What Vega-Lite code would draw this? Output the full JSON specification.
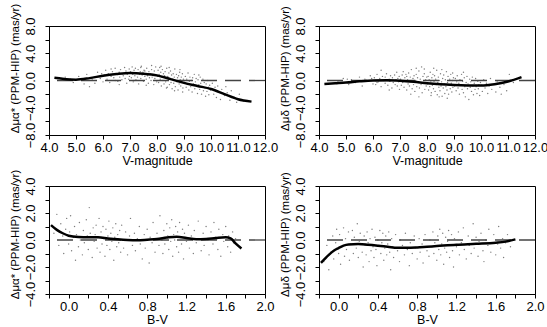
{
  "$schema": "https://vega.github.io/schema/vega-lite/v6.json",
  "padding": {"left": 8, "top": 2, "right": 2, "bottom": 2},
  "config": {
    "view": {"stroke": "black", "strokeWidth": 1},
    "axis": {"grid": false, "domainColor": "black", "tickColor": "black", "labelFont": "Liberation Sans", "titleFont": "Liberation Sans", "labelFontSize": 13, "titleFontSize": 12.5, "titleFontWeight": "normal", "tickSize": 4, "labelOverlap": false, "labelFlush": false},
    "axisX": {"labelPadding": 2, "titlePadding": 0},
    "axisY": {"labelAngle": -90, "labelPadding": 8, "titlePadding": 4, "titleFontSize": 11.5}
  },
  "datasets": {
    "tl": [
      {"x":4.6,"y":0.5},{"x":4.9,"y":-0.3},{"x":5.1,"y":0.6},{"x":5.3,"y":-0.5},{"x":5.4,"y":0.9},{"x":5.6,"y":0.2},{"x":5.7,"y":-0.4},{"x":5.8,"y":1.2},{"x":5.9,"y":0.3},{"x":6.0,"y":-0.2},{"x":5.2,"y":0.1},{"x":4.8,"y":0.2},{"x":5.5,"y":-0.9},{"x":5.95,"y":1.0},
      {"x":6.05,"y":0.8},{"x":6.1,"y":1.5},{"x":6.15,"y":0.2},{"x":6.2,"y":1.0},{"x":6.25,"y":-0.3},{"x":6.3,"y":0.6},{"x":6.35,"y":1.3},{"x":6.4,"y":0.4},{"x":6.45,"y":1.8},{"x":6.5,"y":0.9},{"x":6.55,"y":-0.1},{"x":6.6,"y":1.2},{"x":6.62,"y":0.5},{"x":6.65,"y":1.6},{"x":6.7,"y":0.1},{"x":6.72,"y":1.0},{"x":6.75,"y":0.7},{"x":6.8,"y":1.9},{"x":6.82,"y":0.3},{"x":6.85,"y":1.4},{"x":6.88,"y":-0.4},{"x":6.9,"y":0.9},{"x":6.92,"y":1.1},{"x":6.95,"y":0.2},{"x":6.97,"y":1.7},{"x":6.98,"y":0.6},{"x":6.6,"y":-0.6},{"x":6.3,"y":1.7},{"x":6.15,"y":0.9},{"x":6.45,"y":0.0},
      {"x":7.02,"y":1.3},{"x":7.05,"y":0.4},{"x":7.08,"y":2.0},{"x":7.1,"y":0.9},{"x":7.12,"y":-0.2},{"x":7.15,"y":1.5},{"x":7.18,"y":0.7},{"x":7.2,"y":1.8},{"x":7.22,"y":0.1},{"x":7.25,"y":1.1},{"x":7.28,"y":0.5},{"x":7.3,"y":1.6},{"x":7.32,"y":-0.5},{"x":7.35,"y":0.9},{"x":7.38,"y":1.3},{"x":7.4,"y":0.3},{"x":7.42,"y":2.1},{"x":7.45,"y":0.8},{"x":7.48,"y":1.2},{"x":7.5,"y":-0.1},{"x":7.52,"y":1.5},{"x":7.55,"y":0.6},{"x":7.58,"y":1.0},{"x":7.6,"y":0.2},{"x":7.62,"y":1.8},{"x":7.65,"y":0.7},{"x":7.68,"y":-0.4},{"x":7.7,"y":1.3},{"x":7.72,"y":0.4},{"x":7.75,"y":1.0},{"x":7.78,"y":0.0},{"x":7.8,"y":1.6},{"x":7.82,"y":0.5},{"x":7.85,"y":0.9},{"x":7.88,"y":-0.6},{"x":7.9,"y":1.4},{"x":7.92,"y":0.3},{"x":7.95,"y":2.0},{"x":7.97,"y":0.7},{"x":7.99,"y":-0.2},{"x":7.4,"y":1.9},{"x":7.6,"y":-0.7},{"x":7.8,"y":2.2},{"x":7.15,"y":0.0},{"x":7.55,"y":1.4},
      {"x":8.02,"y":0.6},{"x":8.04,"y":1.5},{"x":8.06,"y":-0.3},{"x":8.08,"y":0.9},{"x":8.1,"y":1.9},{"x":8.12,"y":0.2},{"x":8.14,"y":1.2},{"x":8.16,"y":-0.8},{"x":8.18,"y":0.5},{"x":8.2,"y":1.6},{"x":8.22,"y":0.0},{"x":8.24,"y":1.0},{"x":8.26,"y":-0.5},{"x":8.28,"y":0.7},{"x":8.3,"y":1.3},{"x":8.32,"y":-0.2},{"x":8.34,"y":0.4},{"x":8.36,"y":1.8},{"x":8.38,"y":-1.0},{"x":8.4,"y":0.6},{"x":8.42,"y":0.1},{"x":8.44,"y":1.1},{"x":8.46,"y":-0.6},{"x":8.48,"y":0.3},{"x":8.5,"y":1.4},{"x":8.52,"y":-0.3},{"x":8.54,"y":0.8},{"x":8.56,"y":-1.2},{"x":8.58,"y":0.2},{"x":8.6,"y":1.0},{"x":8.62,"y":-0.4},{"x":8.64,"y":0.5},{"x":8.66,"y":1.7},{"x":8.68,"y":-0.9},{"x":8.7,"y":0.0},{"x":8.72,"y":0.9},{"x":8.74,"y":-0.2},{"x":8.76,"y":0.4},{"x":8.78,"y":-1.4},{"x":8.8,"y":0.7},{"x":8.82,"y":-0.5},{"x":8.84,"y":1.2},{"x":8.86,"y":0.1},{"x":8.88,"y":-0.8},{"x":8.9,"y":0.5},{"x":8.92,"y":-0.1},{"x":8.94,"y":1.0},{"x":8.96,"y":-1.1},{"x":8.98,"y":0.2},{"x":8.15,"y":2.1},{"x":8.45,"y":1.9},{"x":8.65,"y":-1.5},{"x":8.85,"y":1.6},{"x":8.35,"y":-1.1},{"x":8.95,"y":-1.7},
      {"x":9.02,"y":-0.3},{"x":9.05,"y":0.6},{"x":9.08,"y":-1.0},{"x":9.1,"y":0.2},{"x":9.12,"y":-0.6},{"x":9.15,"y":1.1},{"x":9.18,"y":-1.4},{"x":9.2,"y":-0.1},{"x":9.22,"y":0.5},{"x":9.25,"y":-0.9},{"x":9.28,"y":0.0},{"x":9.3,"y":-1.7},{"x":9.32,"y":0.4},{"x":9.35,"y":-0.5},{"x":9.38,"y":0.9},{"x":9.4,"y":-1.2},{"x":9.42,"y":-0.2},{"x":9.45,"y":0.3},{"x":9.48,"y":-0.8},{"x":9.5,"y":-1.9},{"x":9.52,"y":0.1},{"x":9.55,"y":-0.6},{"x":9.58,"y":-1.3},{"x":9.6,"y":0.5},{"x":9.62,"y":-0.4},{"x":9.65,"y":-2.0},{"x":9.68,"y":-0.9},{"x":9.7,"y":0.2},{"x":9.72,"y":-1.5},{"x":9.75,"y":-0.3},{"x":9.78,"y":-1.1},{"x":9.8,"y":-2.3},{"x":9.82,"y":-0.5},{"x":9.85,"y":-1.6},{"x":9.88,"y":0.0},{"x":9.9,"y":-1.0},{"x":9.92,"y":-2.1},{"x":9.95,"y":-0.7},{"x":9.98,"y":-1.4},{"x":9.55,"y":0.8},
      {"x":10.02,"y":-1.2},{"x":10.05,"y":-0.4},{"x":10.1,"y":-2.0},{"x":10.15,"y":-1.0},{"x":10.2,"y":-2.5},{"x":10.25,"y":-0.8},{"x":10.3,"y":-1.7},{"x":10.35,"y":-2.8},{"x":10.4,"y":-1.3},{"x":10.5,"y":-2.2},{"x":10.55,"y":-0.9},{"x":10.6,"y":-1.8},{"x":10.7,"y":-2.9},{"x":10.75,"y":-1.5},{"x":10.85,"y":-2.4},{"x":10.95,"y":-3.2},{"x":11.05,"y":-2.0},{"x":11.2,"y":-3.0}
    ],
    "tlc": [
      {"x":4.2,"y":0.4},{"x":4.5,"y":0.25},{"x":5.0,"y":0.12},{"x":5.5,"y":0.35},{"x":6.0,"y":0.7},{"x":6.5,"y":0.95},{"x":7.0,"y":1.1},{"x":7.5,"y":1.0},{"x":8.0,"y":0.75},{"x":8.5,"y":0.2},{"x":9.0,"y":-0.35},{"x":9.5,"y":-0.8},{"x":10.0,"y":-1.25},{"x":10.5,"y":-2.0},{"x":11.0,"y":-2.75},{"x":11.5,"y":-3.1}
    ],
    "tr": [
      {"x":4.7,"y":-0.2},{"x":4.9,"y":0.3},{"x":5.1,"y":-0.6},{"x":5.2,"y":0.1},{"x":5.35,"y":-0.3},{"x":5.5,"y":0.5},{"x":5.6,"y":-0.8},{"x":5.7,"y":0.2},{"x":5.8,"y":-0.1},{"x":5.9,"y":0.7},{"x":6.0,"y":-0.5},{"x":5.45,"y":-0.1},{"x":5.05,"y":0.2},{"x":5.95,"y":0.3},
      {"x":6.05,"y":0.4},{"x":6.1,"y":-0.6},{"x":6.15,"y":0.9},{"x":6.2,"y":-0.2},{"x":6.25,"y":0.3},{"x":6.3,"y":-0.9},{"x":6.35,"y":0.6},{"x":6.4,"y":0.0},{"x":6.45,"y":-0.4},{"x":6.5,"y":1.0},{"x":6.55,"y":-0.7},{"x":6.6,"y":0.2},{"x":6.62,"y":-0.1},{"x":6.65,"y":0.7},{"x":6.7,"y":-1.1},{"x":6.72,"y":0.4},{"x":6.75,"y":-0.3},{"x":6.8,"y":0.8},{"x":6.82,"y":-0.6},{"x":6.85,"y":0.1},{"x":6.88,"y":1.2},{"x":6.9,"y":-0.8},{"x":6.92,"y":0.3},{"x":6.95,"y":-0.2},{"x":6.97,"y":0.6},{"x":6.98,"y":-1.3},{"x":6.3,"y":1.5},{"x":6.6,"y":-1.4},{"x":6.15,"y":-0.3},{"x":6.45,"y":0.5},
      {"x":7.02,"y":0.2},{"x":7.05,"y":-0.7},{"x":7.08,"y":0.8},{"x":7.1,"y":-0.3},{"x":7.12,"y":1.3},{"x":7.15,"y":-1.0},{"x":7.18,"y":0.4},{"x":7.2,"y":-0.1},{"x":7.22,"y":0.9},{"x":7.25,"y":-1.4},{"x":7.28,"y":0.1},{"x":7.3,"y":-0.5},{"x":7.32,"y":1.1},{"x":7.35,"y":-0.8},{"x":7.38,"y":0.5},{"x":7.4,"y":-0.2},{"x":7.42,"y":1.6},{"x":7.45,"y":-1.2},{"x":7.48,"y":0.3},{"x":7.5,"y":-0.6},{"x":7.52,"y":0.7},{"x":7.55,"y":-1.6},{"x":7.58,"y":0.0},{"x":7.6,"y":0.9},{"x":7.62,"y":-0.9},{"x":7.65,"y":0.4},{"x":7.68,"y":-0.3},{"x":7.7,"y":1.4},{"x":7.72,"y":-1.1},{"x":7.75,"y":0.2},{"x":7.78,"y":-0.6},{"x":7.8,"y":2.0},{"x":7.82,"y":-1.8},{"x":7.85,"y":0.6},{"x":7.88,"y":-0.4},{"x":7.9,"y":1.0},{"x":7.92,"y":-1.3},{"x":7.95,"y":0.1},{"x":7.97,"y":-0.8},{"x":7.99,"y":0.5},{"x":7.4,"y":-2.0},{"x":7.6,"y":1.8},{"x":7.25,"y":0.6},{"x":7.7,"y":-2.4},{"x":7.9,"y":1.7},
      {"x":8.02,"y":-0.5},{"x":8.04,"y":0.6},{"x":8.06,"y":-1.4},{"x":8.08,"y":0.1},{"x":8.1,"y":-0.9},{"x":8.12,"y":1.2},{"x":8.14,"y":-0.2},{"x":8.16,"y":-1.8},{"x":8.18,"y":0.4},{"x":8.2,"y":-0.7},{"x":8.22,"y":0.9},{"x":8.24,"y":-1.2},{"x":8.26,"y":-0.1},{"x":8.28,"y":0.7},{"x":8.3,"y":-1.6},{"x":8.32,"y":0.2},{"x":8.34,"y":-0.6},{"x":8.36,"y":1.5},{"x":8.38,"y":-2.1},{"x":8.4,"y":-0.3},{"x":8.42,"y":0.5},{"x":8.44,"y":-1.0},{"x":8.46,"y":0.0},{"x":8.48,"y":-1.5},{"x":8.5,"y":1.0},{"x":8.52,"y":-0.8},{"x":8.54,"y":-0.2},{"x":8.56,"y":-2.3},{"x":8.58,"y":0.3},{"x":8.6,"y":-1.1},{"x":8.62,"y":0.8},{"x":8.64,"y":-0.5},{"x":8.66,"y":-1.9},{"x":8.68,"y":0.1},{"x":8.7,"y":-0.9},{"x":8.72,"y":1.3},{"x":8.74,"y":-1.4},{"x":8.76,"y":-0.3},{"x":8.78,"y":0.6},{"x":8.8,"y":-2.0},{"x":8.82,"y":-0.7},{"x":8.84,"y":0.2},{"x":8.86,"y":-1.2},{"x":8.88,"y":0.9},{"x":8.9,"y":-0.4},{"x":8.92,"y":-1.7},{"x":8.94,"y":0.0},{"x":8.96,"y":-1.0},{"x":8.98,"y":0.4},{"x":8.25,"y":1.8},{"x":8.55,"y":1.6},{"x":8.75,"y":-2.6},{"x":8.45,"y":-2.4},{"x":8.95,"y":1.1},{"x":8.15,"y":-2.2},
      {"x":9.02,"y":-0.8},{"x":9.05,"y":0.3},{"x":9.08,"y":-1.5},{"x":9.1,"y":-0.2},{"x":9.12,"y":0.7},{"x":9.15,"y":-1.1},{"x":9.18,"y":-0.4},{"x":9.2,"y":-2.0},{"x":9.22,"y":0.1},{"x":9.25,"y":-0.7},{"x":9.28,"y":0.9},{"x":9.3,"y":-1.3},{"x":9.32,"y":-0.1},{"x":9.35,"y":-1.8},{"x":9.38,"y":0.4},{"x":9.4,"y":-0.9},{"x":9.42,"y":-2.4},{"x":9.45,"y":-0.3},{"x":9.48,"y":0.6},{"x":9.5,"y":-1.2},{"x":9.52,"y":-0.5},{"x":9.55,"y":-2.8},{"x":9.58,"y":0.2},{"x":9.6,"y":-1.0},{"x":9.62,"y":-0.2},{"x":9.65,"y":-1.6},{"x":9.68,"y":0.5},{"x":9.7,"y":-0.8},{"x":9.72,"y":-2.1},{"x":9.75,"y":-0.4},{"x":9.78,"y":-1.3},{"x":9.8,"y":0.3},{"x":9.82,"y":-0.9},{"x":9.85,"y":-1.9},{"x":9.88,"y":-0.1},{"x":9.9,"y":-1.2},{"x":9.92,"y":-0.6},{"x":9.95,"y":-2.2},{"x":9.98,"y":-0.3},{"x":9.35,"y":1.2},
      {"x":10.02,"y":-0.7},{"x":10.05,"y":-1.6},{"x":10.1,"y":0.1},{"x":10.15,"y":-1.1},{"x":10.2,"y":-0.4},{"x":10.25,"y":-1.9},{"x":10.3,"y":-0.8},{"x":10.35,"y":0.3},{"x":10.4,"y":-1.3},{"x":10.5,"y":-0.5},{"x":10.55,"y":-1.7},{"x":10.6,"y":-0.2},{"x":10.7,"y":-1.0},{"x":10.75,"y":-2.0},{"x":10.85,"y":-0.6},{"x":10.95,"y":-1.5},{"x":11.05,"y":0.9},{"x":11.2,"y":-0.3}
    ],
    "trc": [
      {"x":4.2,"y":-0.5},{"x":4.6,"y":-0.4},{"x":5.0,"y":-0.3},{"x":5.5,"y":-0.12},{"x":6.0,"y":0.0},{"x":6.5,"y":0.02},{"x":7.0,"y":-0.05},{"x":7.5,"y":-0.2},{"x":8.0,"y":-0.4},{"x":8.5,"y":-0.55},{"x":9.0,"y":-0.65},{"x":9.5,"y":-0.72},{"x":10.0,"y":-0.75},{"x":10.5,"y":-0.55},{"x":11.0,"y":-0.15},{"x":11.5,"y":0.5}
    ],
    "bl": [
      {"x":-0.15,"y":0.5},{"x":-0.12,"y":1.9},{"x":-0.1,"y":-0.4},{"x":-0.08,"y":1.2},{"x":-0.06,"y":0.3},{"x":-0.05,"y":-1.0},{"x":-0.03,"y":0.8},{"x":-0.02,"y":1.6},{"x":0.0,"y":-0.3},{"x":0.01,"y":0.6},{"x":0.02,"y":1.8},{"x":0.03,"y":-0.8},{"x":0.05,"y":0.2},{"x":0.06,"y":1.0},{"x":0.07,"y":-1.5},{"x":0.08,"y":0.4},{"x":0.1,"y":-0.5},{"x":0.11,"y":1.3},{"x":0.12,"y":0.0},{"x":0.14,"y":-1.1},{"x":0.15,"y":0.7},{"x":0.16,"y":-0.2},{"x":0.18,"y":1.5},{"x":0.19,"y":0.3},{"x":0.2,"y":-0.7},{"x":0.21,"y":2.4},{"x":0.22,"y":0.5},{"x":0.24,"y":-1.3},{"x":0.25,"y":0.9},{"x":0.26,"y":-0.1},{"x":0.27,"y":0.4},{"x":0.28,"y":1.1},{"x":0.29,"y":-0.6},{"x":0.3,"y":0.2},{"x":0.31,"y":1.6},{"x":0.32,"y":-0.9},{"x":0.33,"y":0.6},{"x":0.34,"y":-0.3},{"x":0.35,"y":1.0},{"x":0.36,"y":0.1},{"x":0.37,"y":-1.2},{"x":0.38,"y":0.8},{"x":0.39,"y":-0.4},{"x":0.4,"y":0.3},{"x":0.41,"y":1.4},{"x":0.42,"y":-0.7},{"x":0.43,"y":0.5},{"x":0.44,"y":-0.1},{"x":0.45,"y":0.9},{"x":0.46,"y":-1.5},{"x":0.47,"y":0.2},{"x":0.48,"y":1.2},{"x":0.49,"y":-0.5},{"x":0.5,"y":0.4},{"x":0.51,"y":-0.2},{"x":0.52,"y":0.7},{"x":0.53,"y":-0.9},{"x":0.54,"y":1.1},{"x":0.55,"y":0.0},{"x":0.56,"y":-0.6},{"x":0.58,"y":0.6},{"x":0.6,"y":-1.1},{"x":0.62,"y":0.3},{"x":0.63,"y":1.6},{"x":0.65,"y":-0.4},{"x":0.67,"y":0.5},{"x":0.68,"y":-0.8},{"x":0.7,"y":0.1},{"x":0.72,"y":1.0},{"x":0.73,"y":-0.3},{"x":0.75,"y":-1.4},{"x":0.77,"y":0.4},{"x":0.78,"y":-0.6},{"x":0.8,"y":0.8},{"x":0.82,"y":-1.7},{"x":0.83,"y":0.2},{"x":0.85,"y":-0.2},{"x":0.86,"y":1.3},{"x":0.88,"y":-0.9},{"x":0.9,"y":0.5},{"x":0.92,"y":-0.4},{"x":0.93,"y":1.8},{"x":0.95,"y":0.0},{"x":0.96,"y":-1.0},{"x":0.97,"y":0.7},{"x":0.98,"y":-0.3},{"x":1.0,"y":1.2},{"x":1.01,"y":0.3},{"x":1.02,"y":-0.7},{"x":1.03,"y":0.9},{"x":1.04,"y":-0.1},{"x":1.05,"y":1.5},{"x":1.06,"y":-1.2},{"x":1.07,"y":0.4},{"x":1.08,"y":0.0},{"x":1.09,"y":1.0},{"x":1.1,"y":-0.5},{"x":1.11,"y":0.6},{"x":1.12,"y":-0.9},{"x":1.13,"y":1.3},{"x":1.14,"y":0.2},{"x":1.15,"y":-0.3},{"x":1.16,"y":0.8},{"x":1.17,"y":-1.4},{"x":1.18,"y":0.5},{"x":1.2,"y":-0.1},{"x":1.22,"y":1.1},{"x":1.23,"y":-0.6},{"x":1.25,"y":0.3},{"x":1.27,"y":-1.0},{"x":1.28,"y":0.7},{"x":1.3,"y":-0.2},{"x":1.32,"y":1.4},{"x":1.33,"y":0.1},{"x":1.35,"y":-0.8},{"x":1.37,"y":0.5},{"x":1.38,"y":-0.4},{"x":1.4,"y":1.0},{"x":1.42,"y":0.0},{"x":1.43,"y":-1.1},{"x":1.45,"y":0.6},{"x":1.47,"y":-0.3},{"x":1.48,"y":1.3},{"x":1.5,"y":0.2},{"x":1.52,"y":-0.7},{"x":1.53,"y":0.8},{"x":1.55,"y":-1.2},{"x":1.57,"y":0.4},{"x":1.58,"y":-0.1},{"x":1.6,"y":1.0},{"x":1.62,"y":-0.5},{"x":1.63,"y":0.3},{"x":1.65,"y":-0.9},{"x":1.67,"y":0.6},{"x":1.68,"y":-0.2},{"x":1.7,"y":0.1}
    ],
    "blc": [
      {"x":-0.18,"y":1.1},{"x":-0.12,"y":0.75},{"x":-0.06,"y":0.5},{"x":0.0,"y":0.32},{"x":0.1,"y":0.22},{"x":0.2,"y":0.2},{"x":0.3,"y":0.2},{"x":0.4,"y":0.12},{"x":0.5,"y":0.05},{"x":0.6,"y":0.0},{"x":0.7,"y":-0.02},{"x":0.8,"y":0.02},{"x":0.9,"y":0.07},{"x":1.0,"y":0.18},{"x":1.1,"y":0.25},{"x":1.2,"y":0.15},{"x":1.3,"y":0.05},{"x":1.4,"y":0.08},{"x":1.5,"y":0.15},{"x":1.6,"y":0.2},{"x":1.65,"y":0.12},{"x":1.7,"y":-0.25},{"x":1.76,"y":-0.63}
    ],
    "br": [
      {"x":-0.15,"y":-1.6},{"x":-0.12,"y":-0.4},{"x":-0.1,"y":-2.2},{"x":-0.08,"y":-0.9},{"x":-0.06,"y":0.3},{"x":-0.05,"y":-1.4},{"x":-0.03,"y":-0.2},{"x":-0.02,"y":0.8},{"x":0.0,"y":-1.0},{"x":0.01,"y":0.4},{"x":0.02,"y":-1.8},{"x":0.03,"y":-0.5},{"x":0.05,"y":0.9},{"x":0.06,"y":-1.2},{"x":0.07,"y":0.1},{"x":0.08,"y":-0.7},{"x":0.1,"y":0.6},{"x":0.11,"y":-1.5},{"x":0.12,"y":-0.3},{"x":0.14,"y":0.7},{"x":0.15,"y":-1.0},{"x":0.16,"y":0.2},{"x":0.18,"y":-0.6},{"x":0.19,"y":1.2},{"x":0.2,"y":-1.3},{"x":0.21,"y":-0.1},{"x":0.22,"y":0.5},{"x":0.24,"y":-0.9},{"x":0.25,"y":-2.0},{"x":0.26,"y":0.3},{"x":0.27,"y":-0.4},{"x":0.28,"y":-1.1},{"x":0.29,"y":0.6},{"x":0.3,"y":-0.2},{"x":0.31,"y":-1.6},{"x":0.32,"y":0.1},{"x":0.33,"y":-0.8},{"x":0.34,"y":0.8},{"x":0.35,"y":-0.5},{"x":0.36,"y":-1.3},{"x":0.37,"y":0.2},{"x":0.38,"y":-0.7},{"x":0.39,"y":-1.9},{"x":0.4,"y":0.0},{"x":0.41,"y":-0.4},{"x":0.42,"y":0.7},{"x":0.43,"y":-1.0},{"x":0.44,"y":-0.2},{"x":0.45,"y":0.5},{"x":0.46,"y":-1.5},{"x":0.47,"y":-0.6},{"x":0.48,"y":0.3},{"x":0.49,"y":-1.1},{"x":0.5,"y":-0.3},{"x":0.51,"y":0.6},{"x":0.52,"y":-0.9},{"x":0.53,"y":-2.2},{"x":0.54,"y":0.1},{"x":0.55,"y":-0.5},{"x":0.56,"y":-1.3},{"x":0.58,"y":0.4},{"x":0.6,"y":-0.8},{"x":0.62,"y":-1.6},{"x":0.63,"y":0.0},{"x":0.65,"y":-0.4},{"x":0.67,"y":-1.1},{"x":0.68,"y":0.5},{"x":0.7,"y":-0.7},{"x":0.72,"y":-1.9},{"x":0.73,"y":-0.2},{"x":0.75,"y":-1.0},{"x":0.77,"y":0.3},{"x":0.78,"y":-0.6},{"x":0.8,"y":-1.4},{"x":0.82,"y":0.1},{"x":0.83,"y":-0.9},{"x":0.85,"y":-0.3},{"x":0.86,"y":-1.7},{"x":0.88,"y":0.4},{"x":0.9,"y":-0.8},{"x":0.92,"y":-1.2},{"x":0.93,"y":0.0},{"x":0.95,"y":-0.5},{"x":0.96,"y":0.6},{"x":0.97,"y":-1.0},{"x":0.98,"y":-0.2},{"x":1.0,"y":-1.5},{"x":1.01,"y":0.3},{"x":1.02,"y":-0.7},{"x":1.03,"y":0.8},{"x":1.04,"y":-1.1},{"x":1.05,"y":-0.3},{"x":1.06,"y":0.5},{"x":1.07,"y":-1.8},{"x":1.08,"y":-0.6},{"x":1.09,"y":0.2},{"x":1.1,"y":-0.9},{"x":1.11,"y":-0.1},{"x":1.12,"y":0.7},{"x":1.13,"y":-1.3},{"x":1.14,"y":-0.4},{"x":1.15,"y":0.4},{"x":1.16,"y":-0.8},{"x":1.17,"y":-2.0},{"x":1.18,"y":0.1},{"x":1.2,"y":-0.5},{"x":1.22,"y":0.6},{"x":1.23,"y":-1.1},{"x":1.25,"y":-0.2},{"x":1.27,"y":0.9},{"x":1.28,"y":-0.7},{"x":1.3,"y":-1.4},{"x":1.32,"y":0.3},{"x":1.33,"y":-0.4},{"x":1.35,"y":-1.0},{"x":1.37,"y":1.2},{"x":1.38,"y":-0.6},{"x":1.4,"y":0.2},{"x":1.42,"y":-1.2},{"x":1.43,"y":-0.1},{"x":1.45,"y":0.5},{"x":1.47,"y":-0.8},{"x":1.48,"y":-1.6},{"x":1.5,"y":0.0},{"x":1.52,"y":-0.4},{"x":1.53,"y":0.8},{"x":1.55,"y":-0.9},{"x":1.57,"y":-0.2},{"x":1.58,"y":0.4},{"x":1.6,"y":-1.1},{"x":1.62,"y":-0.3},{"x":1.63,"y":1.0},{"x":1.65,"y":-0.6},{"x":1.67,"y":0.1},{"x":1.68,"y":-1.3},{"x":1.7,"y":-0.2},{"x":1.72,"y":0.4},{"x":1.75,"y":-0.5}
    ],
    "brc": [
      {"x":-0.18,"y":-1.7},{"x":-0.1,"y":-1.1},{"x":-0.05,"y":-0.8},{"x":0.0,"y":-0.6},{"x":0.05,"y":-0.42},{"x":0.1,"y":-0.33},{"x":0.2,"y":-0.3},{"x":0.3,"y":-0.35},{"x":0.4,"y":-0.42},{"x":0.5,"y":-0.5},{"x":0.6,"y":-0.58},{"x":0.7,"y":-0.58},{"x":0.8,"y":-0.55},{"x":0.9,"y":-0.5},{"x":1.0,"y":-0.45},{"x":1.2,"y":-0.35},{"x":1.4,"y":-0.28},{"x":1.6,"y":-0.2},{"x":1.7,"y":-0.12},{"x":1.8,"y":0.05}
    ],
    "zero": [{"y": 0}]
  },
  "spacing": {"row": 51, "column": 54},
  "bounds": "flush",
  "columns": 2,
  "concat": [
    {
      "width": 216, "height": 109,
      "layer": [
        {"data": {"name": "tl"}, "mark": {"type": "circle", "size": 2, "color": "#6e6e6e", "opacity": 0.9},
         "encoding": {
           "x": {"field": "x", "type": "quantitative", "scale": {"domain": [4, 12], "nice": false}, "axis": {"title": "V-magnitude", "values": [4,5,6,7,8,9,10,11,12], "format": ".1f"}},
           "y": {"field": "y", "type": "quantitative", "scale": {"domain": [-8, 8], "nice": false}, "axis": {"title": "Δμα* (PPM-HIP) (mas/yr)", "values": [-8,-6,-4,-2,0,2,4,6,8], "labelExpr": "datum.value % 4 == 0 ? format(datum.value, '.1f') : ''", "titleY": 42}}}},
        {"data": {"name": "zero"}, "mark": {"type": "rule", "color": "#444444", "strokeWidth": 1.3, "strokeDash": [16, 8]},
         "encoding": {
           "y": {"field": "y", "type": "quantitative", "scale": {"domain": [-8, 8], "nice": false}, "axis": {"title": "Δμα* (PPM-HIP) (mas/yr)", "values": [-8,-6,-4,-2,0,2,4,6,8], "labelExpr": "datum.value % 4 == 0 ? format(datum.value, '.1f') : ''", "titleY": 42}}}},
        {"data": {"name": "tlc"}, "mark": {"type": "line", "color": "black", "strokeWidth": 2.5, "interpolate": "monotone"},
         "encoding": {
           "x": {"field": "x", "type": "quantitative", "scale": {"domain": [4, 12], "nice": false}, "axis": {"title": "V-magnitude", "values": [4,5,6,7,8,9,10,11,12], "format": ".1f"}},
           "y": {"field": "y", "type": "quantitative", "scale": {"domain": [-8, 8], "nice": false}, "axis": {"title": "Δμα* (PPM-HIP) (mas/yr)", "values": [-8,-6,-4,-2,0,2,4,6,8], "labelExpr": "datum.value % 4 == 0 ? format(datum.value, '.1f') : ''", "titleY": 42}}}}
      ]
    },
    {
      "width": 216, "height": 109,
      "layer": [
        {"data": {"name": "tr"}, "mark": {"type": "circle", "size": 2, "color": "#6e6e6e", "opacity": 0.9},
         "encoding": {
           "x": {"field": "x", "type": "quantitative", "scale": {"domain": [4, 12], "nice": false}, "axis": {"title": "V-magnitude", "values": [4,5,6,7,8,9,10,11,12], "format": ".1f"}},
           "y": {"field": "y", "type": "quantitative", "scale": {"domain": [-8, 8], "nice": false}, "axis": {"title": "Δμδ (PPM-HIP) (mas/yr)", "values": [-8,-6,-4,-2,0,2,4,6,8], "labelExpr": "datum.value % 4 == 0 ? format(datum.value, '.1f') : ''", "titleY": 42}}}},
        {"data": {"name": "zero"}, "mark": {"type": "rule", "color": "#444444", "strokeWidth": 1.3, "strokeDash": [16, 8]},
         "encoding": {
           "y": {"field": "y", "type": "quantitative", "scale": {"domain": [-8, 8], "nice": false}, "axis": {"title": "Δμδ (PPM-HIP) (mas/yr)", "values": [-8,-6,-4,-2,0,2,4,6,8], "labelExpr": "datum.value % 4 == 0 ? format(datum.value, '.1f') : ''", "titleY": 42}}}},
        {"data": {"name": "trc"}, "mark": {"type": "line", "color": "black", "strokeWidth": 2.5, "interpolate": "monotone"},
         "encoding": {
           "x": {"field": "x", "type": "quantitative", "scale": {"domain": [4, 12], "nice": false}, "axis": {"title": "V-magnitude", "values": [4,5,6,7,8,9,10,11,12], "format": ".1f"}},
           "y": {"field": "y", "type": "quantitative", "scale": {"domain": [-8, 8], "nice": false}, "axis": {"title": "Δμδ (PPM-HIP) (mas/yr)", "values": [-8,-6,-4,-2,0,2,4,6,8], "labelExpr": "datum.value % 4 == 0 ? format(datum.value, '.1f') : ''", "titleY": 42}}}}
      ]
    },
    {
      "width": 216, "height": 108,
      "layer": [
        {"data": {"name": "bl"}, "mark": {"type": "circle", "size": 2, "color": "#6e6e6e", "opacity": 0.9},
         "encoding": {
           "x": {"field": "x", "type": "quantitative", "scale": {"domain": [-0.2, 2.0], "nice": false, "zero": false}, "axis": {"title": "B-V", "values": [-0.2,0,0.2,0.4,0.6,0.8,1.0,1.2,1.4,1.6,1.8,2.0], "labelExpr": "round(datum.value*10) % 4 == 0 ? format(datum.value, '.1f') : ''"}},
           "y": {"field": "y", "type": "quantitative", "scale": {"domain": [-4, 4], "nice": false}, "axis": {"title": "Δμα* (PPM-HIP)  (mas/yr)", "values": [-4,-3,-2,-1,0,1,2,3,4], "labelExpr": "datum.value % 2 == 0 ? format(datum.value, '.1f') : ''", "titleY": 48}}}},
        {"data": {"name": "zero"}, "mark": {"type": "rule", "color": "#444444", "strokeWidth": 1.3, "strokeDash": [16, 8]},
         "encoding": {
           "y": {"field": "y", "type": "quantitative", "scale": {"domain": [-4, 4], "nice": false}, "axis": {"title": "Δμα* (PPM-HIP)  (mas/yr)", "values": [-4,-3,-2,-1,0,1,2,3,4], "labelExpr": "datum.value % 2 == 0 ? format(datum.value, '.1f') : ''", "titleY": 48}}}},
        {"data": {"name": "blc"}, "mark": {"type": "line", "color": "black", "strokeWidth": 2.5, "interpolate": "monotone"},
         "encoding": {
           "x": {"field": "x", "type": "quantitative", "scale": {"domain": [-0.2, 2.0], "nice": false, "zero": false}, "axis": {"title": "B-V", "values": [-0.2,0,0.2,0.4,0.6,0.8,1.0,1.2,1.4,1.6,1.8,2.0], "labelExpr": "round(datum.value*10) % 4 == 0 ? format(datum.value, '.1f') : ''"}},
           "y": {"field": "y", "type": "quantitative", "scale": {"domain": [-4, 4], "nice": false}, "axis": {"title": "Δμα* (PPM-HIP)  (mas/yr)", "values": [-4,-3,-2,-1,0,1,2,3,4], "labelExpr": "datum.value % 2 == 0 ? format(datum.value, '.1f') : ''", "titleY": 48}}}}
      ]
    },
    {
      "width": 216, "height": 108,
      "layer": [
        {"data": {"name": "br"}, "mark": {"type": "circle", "size": 2, "color": "#6e6e6e", "opacity": 0.9},
         "encoding": {
           "x": {"field": "x", "type": "quantitative", "scale": {"domain": [-0.2, 2.0], "nice": false, "zero": false}, "axis": {"title": "B-V", "values": [-0.2,0,0.2,0.4,0.6,0.8,1.0,1.2,1.4,1.6,1.8,2.0], "labelExpr": "round(datum.value*10) % 4 == 0 ? format(datum.value, '.1f') : ''"}},
           "y": {"field": "y", "type": "quantitative", "scale": {"domain": [-4, 4], "nice": false}, "axis": {"title": "Δμδ (PPM-HIP)  (mas/yr)", "values": [-4,-3,-2,-1,0,1,2,3,4], "labelExpr": "datum.value % 2 == 0 ? format(datum.value, '.1f') : ''", "titleY": 48}}}},
        {"data": {"name": "zero"}, "mark": {"type": "rule", "color": "#444444", "strokeWidth": 1.3, "strokeDash": [16, 8]},
         "encoding": {
           "y": {"field": "y", "type": "quantitative", "scale": {"domain": [-4, 4], "nice": false}, "axis": {"title": "Δμδ (PPM-HIP)  (mas/yr)", "values": [-4,-3,-2,-1,0,1,2,3,4], "labelExpr": "datum.value % 2 == 0 ? format(datum.value, '.1f') : ''", "titleY": 48}}}},
        {"data": {"name": "brc"}, "mark": {"type": "line", "color": "black", "strokeWidth": 2.5, "interpolate": "monotone"},
         "encoding": {
           "x": {"field": "x", "type": "quantitative", "scale": {"domain": [-0.2, 2.0], "nice": false, "zero": false}, "axis": {"title": "B-V", "values": [-0.2,0,0.2,0.4,0.6,0.8,1.0,1.2,1.4,1.6,1.8,2.0], "labelExpr": "round(datum.value*10) % 4 == 0 ? format(datum.value, '.1f') : ''"}},
           "y": {"field": "y", "type": "quantitative", "scale": {"domain": [-4, 4], "nice": false}, "axis": {"title": "Δμδ (PPM-HIP)  (mas/yr)", "values": [-4,-3,-2,-1,0,1,2,3,4], "labelExpr": "datum.value % 2 == 0 ? format(datum.value, '.1f') : ''", "titleY": 48}}}}
      ]
    }
  ]
}
